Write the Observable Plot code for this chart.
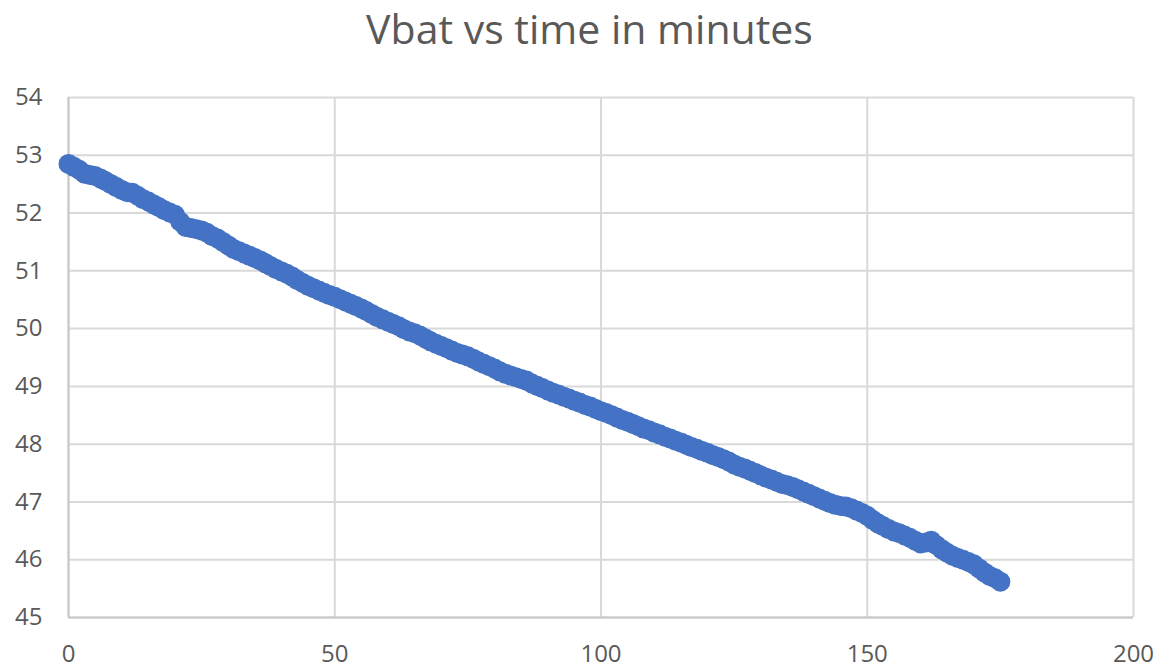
<!DOCTYPE html>
<html>
<head>
<meta charset="utf-8">
<script src="https://cdn.jsdelivr.net/npm/d3@7"></script>
<script src="https://cdn.jsdelivr.net/npm/@observablehq/plot@0.6"></script>
<style>
  body { margin: 0; background: #fff; }
  #title { height: 60px; line-height: 56px; text-align: center; padding-left: 20px; font-family: "Open Sans", sans-serif; font-size: 41px; color: #595959; white-space: nowrap; }
</style>
</head>
<body>
<div id="title">Vbat vs time in minutes</div>
<div id="chart"></div>
<script>
const minutes = [0,1,2,3,4,5,6,7,8,9,10,11,12,13,14,15,16,17,18,19,20,21,22,23,24,25,26,27,28,29,30,31,32,33,34,35,36,37,38,39,40,41,42,43,44,45,46,47,48,49,50,51,52,53,54,55,56,57,58,59,60,61,62,63,64,65,66,67,68,69,70,71,72,73,74,75,76,77,78,79,80,81,82,83,84,85,86,87,88,89,90,91,92,93,94,95,96,97,98,99,100,101,102,103,104,105,106,107,108,109,110,111,112,113,114,115,116,117,118,119,120,121,122,123,124,125,126,127,128,129,130,131,132,133,134,135,136,137,138,139,140,141,142,143,144,145,146,147,148,149,150,151,152,153,154,155,156,157,158,159,160,161,162,163,164,165,166,167,168,169,170,171,172,173,174,175];
const vbat = [
  52.85,52.80,52.75,52.68,52.66,52.64,52.60,52.55,52.50,52.45,
  52.40,52.36,52.35,52.30,52.24,52.20,52.15,52.10,52.05,52.01,
  51.97,51.85,51.76,51.74,51.72,51.70,51.66,51.60,51.56,51.50,
  51.44,51.38,51.34,51.30,51.26,51.22,51.18,51.13,51.08,51.03,
  50.99,50.95,50.90,50.84,50.79,50.74,50.70,50.66,50.62,50.58,
  50.55,50.51,50.47,50.43,50.39,50.35,50.30,50.25,50.20,50.16,
  50.12,50.08,50.04,49.99,49.95,49.92,49.88,49.83,49.78,49.74,
  49.70,49.66,49.62,49.58,49.55,49.52,49.48,49.43,49.39,49.35,
  49.31,49.26,49.22,49.19,49.16,49.13,49.10,49.05,49.01,48.97,
  48.93,48.89,48.86,48.82,48.79,48.75,48.72,48.68,48.65,48.61,
  48.57,48.54,48.50,48.46,48.42,48.39,48.35,48.31,48.27,48.24,
  48.20,48.17,48.13,48.10,48.06,48.03,47.99,47.95,47.92,47.88,
  47.85,47.81,47.78,47.74,47.70,47.65,47.61,47.58,47.54,47.50,
  47.46,47.42,47.39,47.35,47.31,47.29,47.26,47.22,47.18,47.14,
  47.10,47.06,47.02,46.98,46.95,46.93,46.92,46.89,46.85,46.81,
  46.76,46.69,46.63,46.58,46.53,46.49,46.46,46.42,46.38,46.33,
  46.28,46.30,46.33,46.25,46.18,46.12,46.07,46.03,46.00,45.96,
  45.92,45.85,45.78,45.72,45.68,45.62
];
const xTicks = [0,50,100,150,200];
const yTicks = [45,46,47,48,49,50,51,52,53,54];

const data = minutes.map((t, i) => ({t, v: vbat[i]}));

const chart = Plot.plot({
  width: 1159,
  height: 610,
  marginTop: 37,
  marginBottom: 53,
  marginLeft: 68,
  marginRight: 26,
  style: { fontFamily: "'Open Sans', sans-serif", fontSize: "24px", color: "#595959", background: "#fff" },
  x: { domain: [0, 200], ticks: xTicks, tickSize: 0, tickPadding: 27, label: null },
  y: { domain: [45, 54], ticks: yTicks, tickSize: 0, tickPadding: 26, label: null },
  marks: [
    Plot.ruleX(xTicks, { stroke: "#d9d9d9", strokeWidth: 2 }),
    Plot.ruleY(yTicks, { stroke: "#d9d9d9", strokeWidth: 2 }),
    Plot.ruleX([0], { stroke: "#c8c8c8", strokeWidth: 2 }),
    Plot.ruleY([45], { stroke: "#c8c8c8", strokeWidth: 2 }),
    Plot.dot(data, { x: "t", y: "v", r: 10, fill: "#4472C4", stroke: "none" })
  ]
});
document.getElementById("chart").appendChild(chart);
</script>
</body>
</html>
